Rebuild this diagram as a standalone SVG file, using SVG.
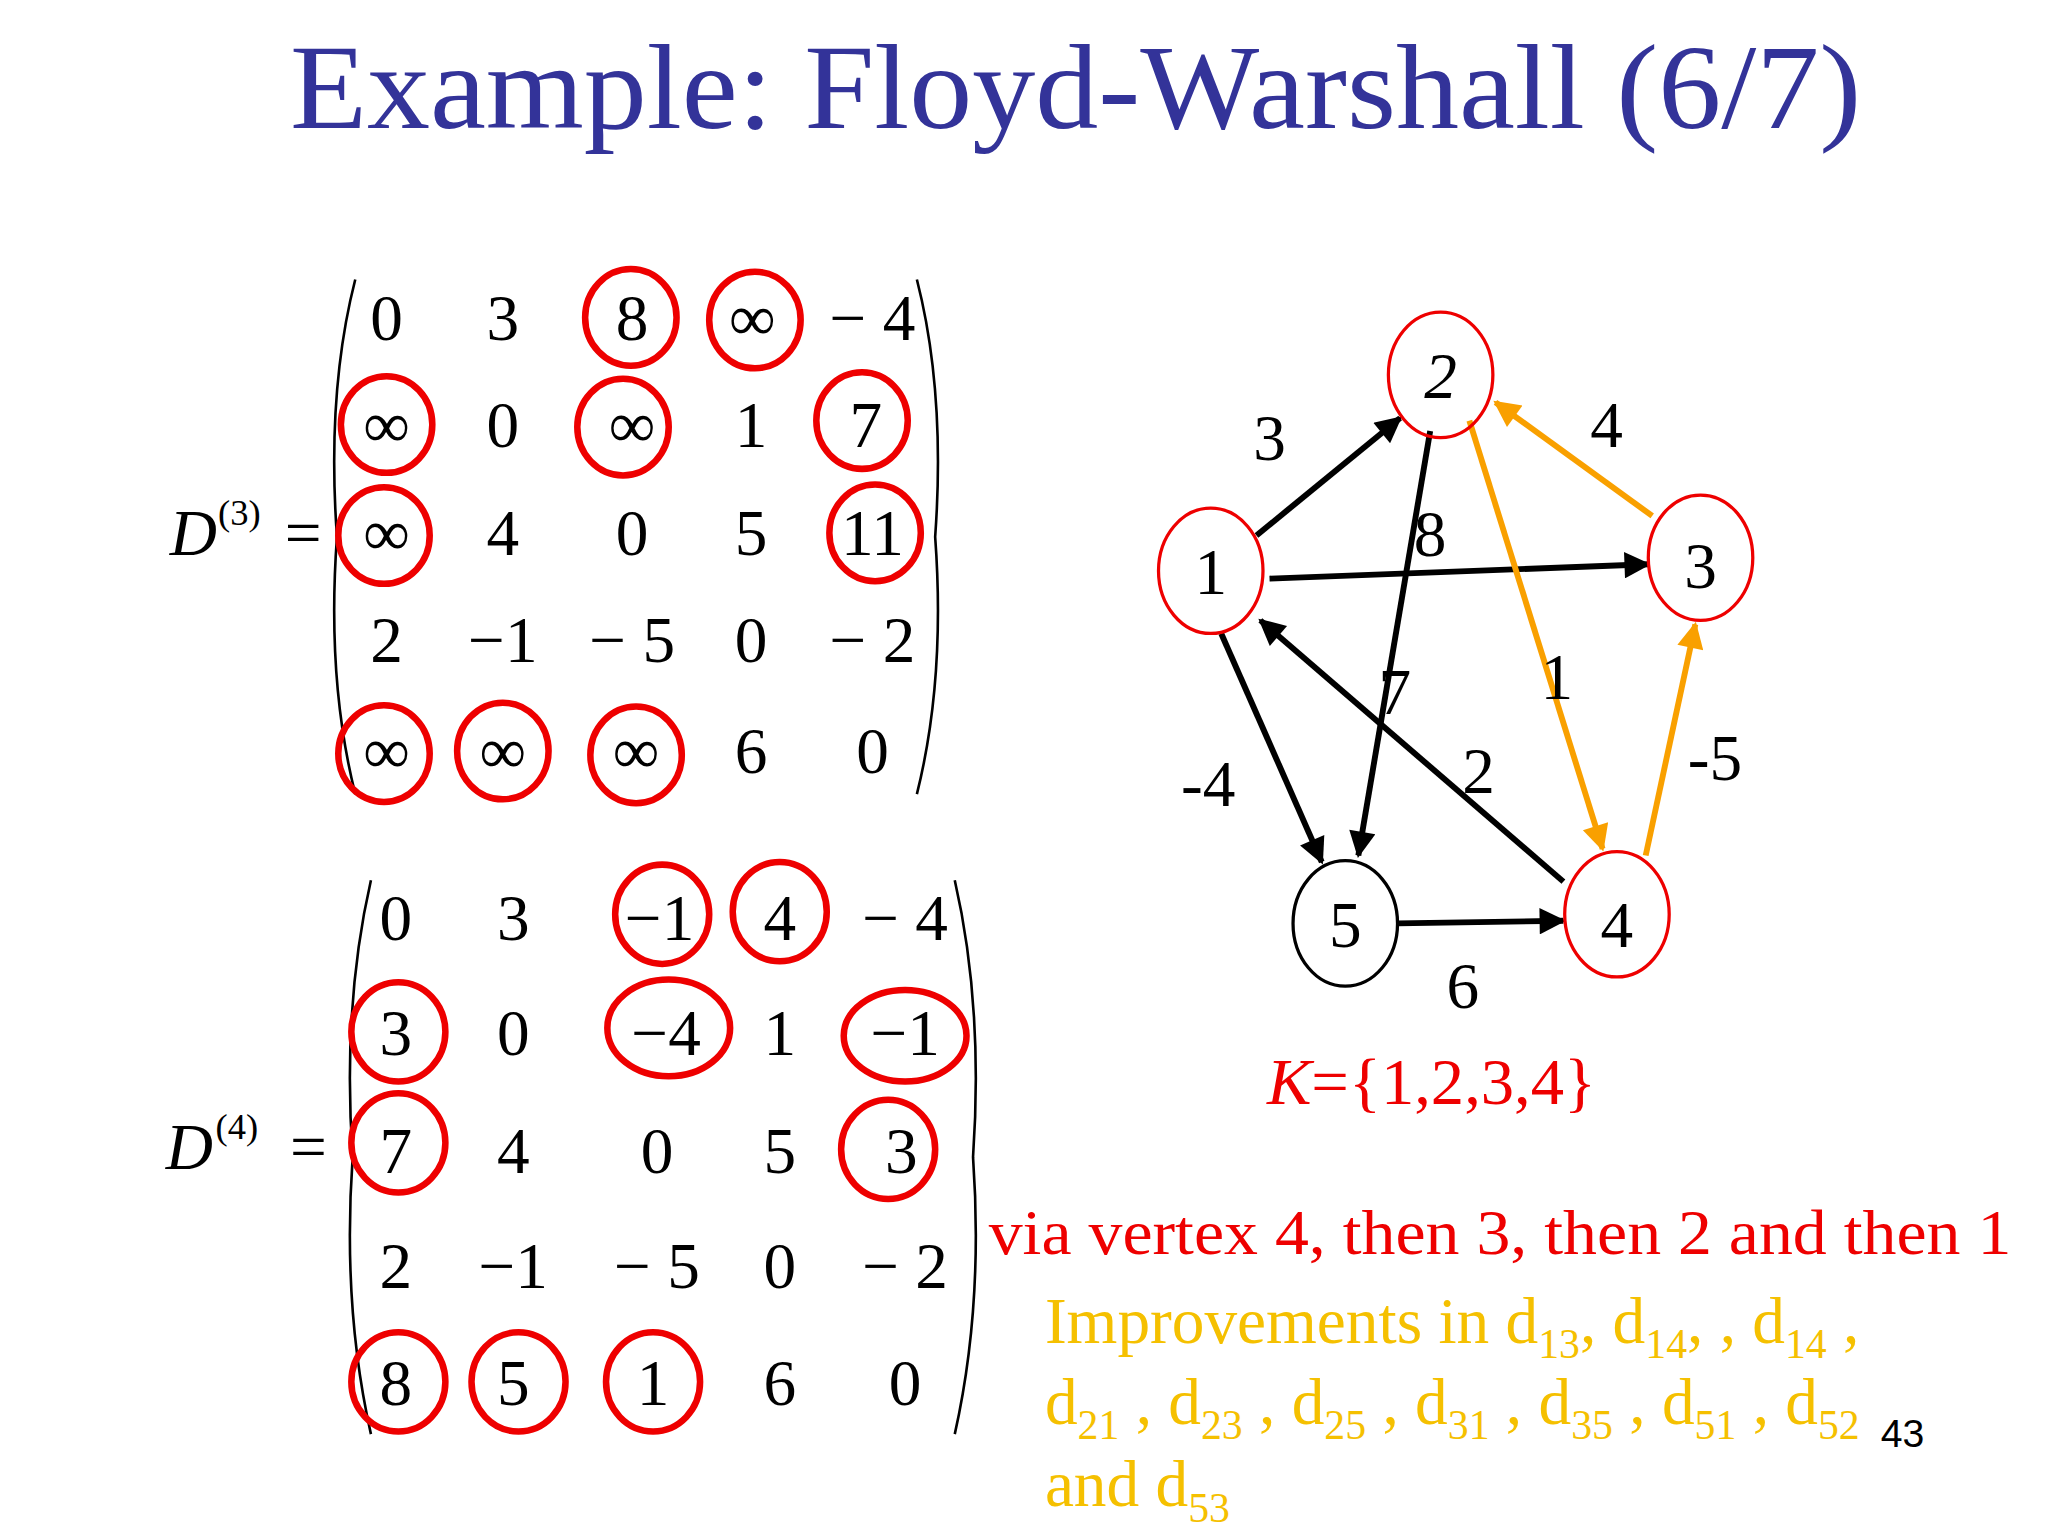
<svg xmlns="http://www.w3.org/2000/svg" width="2048" height="1536" viewBox="0 0 2048 1536">
<style>
text{font-family:"Liberation Serif","Times New Roman",serif}
text.s{font-family:"Liberation Sans",Arial,sans-serif}
.m{font-size:50px;text-anchor:middle}
.rc{fill:none;stroke:#e00;stroke-width:5}
.e{stroke:#000;stroke-width:4.5;fill:none}
.o{stroke:#f9a000;stroke-width:4.5;fill:none}
.n{font-size:50px;text-anchor:middle}
.y{fill:#f5c000;font-size:50px}
.p{stroke:#000;stroke-width:2;fill:none}
</style>
<defs>
<marker id="ab" viewBox="0 0 10 10" refX="9" refY="5" markerWidth="5.5" markerHeight="4.5" orient="auto" markerUnits="strokeWidth"><path d="M0,0L10,5L0,10z" fill="#000"/></marker>
<marker id="ao" viewBox="0 0 10 10" refX="9" refY="5" markerWidth="5.5" markerHeight="4.5" orient="auto" markerUnits="strokeWidth"><path d="M0,0L10,5L0,10z" fill="#f9a000"/></marker>
</defs>
<rect width="2048" height="1536" fill="#fff"/>
<g transform="scale(1.3061)">
<text x="222" y="98" font-size="92" fill="#333399" textLength="1203" lengthAdjust="spacingAndGlyphs">Example: Floyd-Warshall (6/7)</text>
<g id="d3">
<text x="130" y="425" font-size="50" font-style="italic">D</text><text x="167" y="402" font-size="28">(3)</text><text x="218" y="425" font-size="50">=</text>
<path class="p" d="M272,214Q250,300 258,411Q250,520 272,608M702,214Q724,300 716,411Q724,520 702,608"/>
<g class="m">
<text x="296" y="260">0</text><text x="385" y="260">3</text><text x="484" y="260">8</text><text x="576" y="260">∞</text><text x="668" y="260">− 4</text>
<text x="296" y="342">∞</text><text x="385" y="342">0</text><text x="484" y="342">∞</text><text x="575" y="342">1</text><text x="663" y="342">7</text>
<text x="296" y="425">∞</text><text x="385" y="425">4</text><text x="484" y="425">0</text><text x="575" y="425">5</text><text x="668" y="425">11</text>
<text x="296" y="507">2</text><text x="385" y="507">−1</text><text x="484" y="507">− 5</text><text x="575" y="507">0</text><text x="668" y="507">− 2</text>
<text x="296" y="592">∞</text><text x="385" y="592">∞</text><text x="487" y="592">∞</text><text x="575" y="592">6</text><text x="668" y="592">0</text>
</g>
<ellipse class="rc" cx="483" cy="243" rx="35" ry="37"/><ellipse class="rc" cx="578" cy="245" rx="35" ry="37"/>
<ellipse class="rc" cx="296" cy="325" rx="35" ry="37"/><ellipse class="rc" cx="477" cy="327" rx="35" ry="37"/><ellipse class="rc" cx="660" cy="322" rx="35" ry="37"/>
<ellipse class="rc" cx="294" cy="410" rx="35" ry="37"/><ellipse class="rc" cx="670" cy="408" rx="35" ry="37"/>
<ellipse class="rc" cx="294" cy="577" rx="35" ry="37"/><ellipse class="rc" cx="385" cy="575" rx="35" ry="37"/><ellipse class="rc" cx="487" cy="578" rx="35" ry="37"/>
</g>
<g id="d4">
<text x="127" y="895" font-size="50" font-style="italic">D</text><text x="165" y="872" font-size="28">(4)</text><text x="222" y="895" font-size="50">=</text>
<path class="p" d="M284,674Q262,770 270,886Q262,1000 284,1098M731,674Q753,770 745,886Q753,1000 731,1098"/>
<g class="m">
<text x="303" y="720">0</text><text x="393" y="720">3</text><text x="505" y="720">−1</text><text x="597" y="720">4</text><text x="693" y="720">− 4</text>
<text x="303" y="808">3</text><text x="393" y="808">0</text><text x="510" y="808">−4</text><text x="597" y="808">1</text><text x="693" y="808">−1</text>
<text x="303" y="898">7</text><text x="393" y="898">4</text><text x="503" y="898">0</text><text x="597" y="898">5</text><text x="690" y="898">3</text>
<text x="303" y="986">2</text><text x="393" y="986">−1</text><text x="503" y="986">− 5</text><text x="597" y="986">0</text><text x="693" y="986">− 2</text>
<text x="303" y="1076">8</text><text x="393" y="1076">5</text><text x="500" y="1076">1</text><text x="597" y="1076">6</text><text x="693" y="1076">0</text>
</g>
<ellipse class="rc" cx="507" cy="700" rx="36" ry="38"/><ellipse class="rc" cx="597" cy="698" rx="36" ry="38"/>
<ellipse class="rc" cx="305" cy="790" rx="36" ry="38"/><ellipse class="rc" cx="512" cy="787" rx="47" ry="37"/><ellipse class="rc" cx="693" cy="793" rx="47" ry="35"/>
<ellipse class="rc" cx="305" cy="875" rx="36" ry="38"/><ellipse class="rc" cx="680" cy="880" rx="36" ry="38"/>
<ellipse class="rc" cx="305" cy="1058" rx="36" ry="38"/><ellipse class="rc" cx="397" cy="1058" rx="36" ry="38"/><ellipse class="rc" cx="500" cy="1058" rx="36" ry="38"/>
</g>
<g id="edges">
<line class="e" x1="962" y1="410" x2="1072" y2="320" marker-end="url(#ab)"/>
<line class="e" x1="1095" y1="330" x2="1040" y2="655" marker-end="url(#ab)"/>
<line class="e" x1="972" y1="443" x2="1262" y2="432" marker-end="url(#ab)"/>
<line class="e" x1="1197" y1="675" x2="965" y2="475" marker-end="url(#ab)"/>
<line class="e" x1="935" y1="485" x2="1012" y2="660" marker-end="url(#ab)"/>
<line class="e" x1="1070" y1="707" x2="1197" y2="705" marker-end="url(#ab)"/>
<line class="o" x1="1125" y1="322" x2="1227" y2="650" marker-end="url(#ao)"/>
<line class="o" x1="1265" y1="395" x2="1145" y2="308" marker-end="url(#ao)"/>
<line class="o" x1="1260" y1="655" x2="1298" y2="478" marker-end="url(#ao)"/>
<g class="n"><text x="972" y="352">3</text><text x="1230" y="342">4</text><text x="1095" y="426">8</text><text x="1192" y="535">1</text><text x="1068" y="547">7</text><text x="1132" y="607">2</text><text x="925" y="617">-4</text><text x="1313" y="597">-5</text><text x="1120" y="772">6</text></g>
</g>
<g id="n1"><ellipse cx="927" cy="437" rx="40" ry="48" fill="#fff" stroke="#e00" stroke-width="2.5"/><text class="n" x="927" y="455">1</text></g>
<g id="n2"><ellipse cx="1103" cy="287" rx="40" ry="48" fill="none" stroke="#e00" stroke-width="2.5"/><text class="n" x="1103" y="305" font-style="italic">2</text></g>
<g id="n3"><ellipse cx="1302" cy="427" rx="40" ry="48" fill="#fff" stroke="#e00" stroke-width="2.5"/><text class="n" x="1302" y="450">3</text></g>
<g id="n4"><ellipse cx="1238" cy="700" rx="40" ry="48" fill="#fff" stroke="#e00" stroke-width="2.5"/><text class="n" x="1238" y="725">4</text></g>
<g id="n5"><ellipse cx="1030" cy="707" rx="40" ry="48" fill="#fff" stroke="#000" stroke-width="2.5"/><text class="n" x="1030" y="725">5</text></g>
<text x="970" y="845" font-size="50" fill="#e00" textLength="252" lengthAdjust="spacingAndGlyphs"><tspan font-style="italic">K</tspan>={1,2,3,4}</text>
<text x="757" y="960" font-size="48" fill="#e00" textLength="783" lengthAdjust="spacingAndGlyphs">via vertex 4, then 3, then 2 and then 1</text>
<text class="y" x="800" y="1028">Improvements in d<tspan font-size="32" dy="12">13</tspan><tspan dy="-12">, d</tspan><tspan font-size="32" dy="12">14</tspan><tspan dy="-12">, , d</tspan><tspan font-size="32" dy="12">14</tspan><tspan dy="-12"> ,</tspan></text>
<text class="y" x="800" y="1090">d<tspan font-size="32" dy="12">21</tspan><tspan dy="-12"> , d</tspan><tspan font-size="32" dy="12">23</tspan><tspan dy="-12"> , d</tspan><tspan font-size="32" dy="12">25</tspan><tspan dy="-12"> , d</tspan><tspan font-size="32" dy="12">31</tspan><tspan dy="-12"> , d</tspan><tspan font-size="32" dy="12">35</tspan><tspan dy="-12"> , d</tspan><tspan font-size="32" dy="12">51</tspan><tspan dy="-12"> , d</tspan><tspan font-size="32" dy="12">52</tspan></text>
<text class="s" x="1440" y="1108" font-size="30">43</text>
<text class="y" x="800" y="1153">and d<tspan font-size="32" dy="12">53</tspan></text>
</g>
</svg>
